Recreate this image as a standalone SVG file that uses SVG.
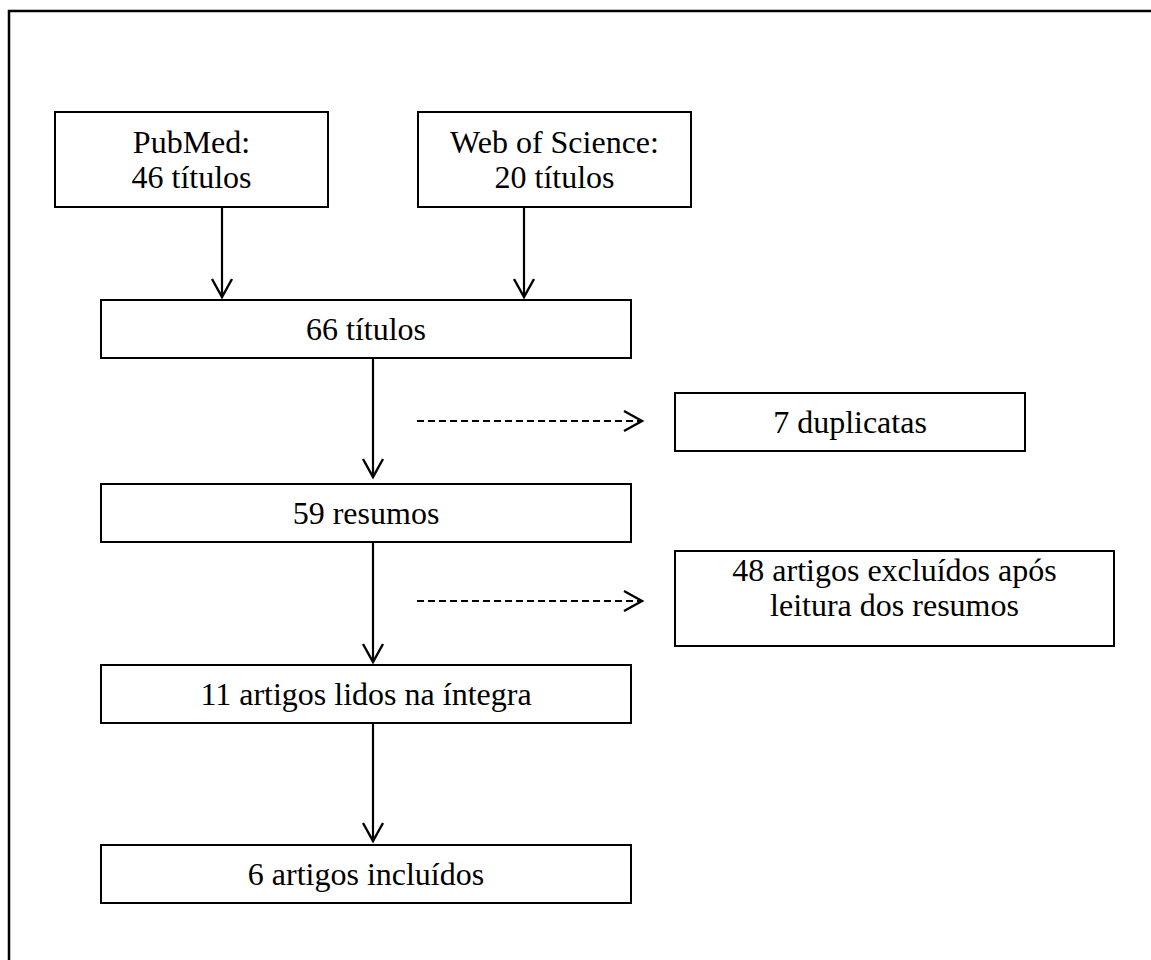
<svg xmlns="http://www.w3.org/2000/svg" width="1151" height="960" viewBox="0 0 1151 960">
<defs>
<style>
.box{fill:#fff;stroke:#000;stroke-width:2}
.t{font-family:"Liberation Serif","Times New Roman",serif;font-size:32px;fill:#000;text-anchor:middle}
.c{fill:none;stroke:#000;stroke-width:2.2}
.d{fill:none;stroke:#000;stroke-width:2;stroke-dasharray:7,4}
.h{fill:none;stroke:#000;stroke-width:2.4}
</style>
</defs>
<rect width="1151" height="960" fill="#fff"/>
<path d="M9,960 V11 H1151" fill="none" stroke="#000" stroke-width="2.5"/>
<g id="connectors">
<line class="c" x1="222" y1="207" x2="222" y2="296"/>
<polyline class="h" points="212,279 222,297 232,279"/>
<line class="c" x1="524" y1="207" x2="524" y2="296"/>
<polyline class="h" points="514,279 524,297 534,279"/>
<line class="c" x1="373" y1="358" x2="373" y2="476"/>
<polyline class="h" points="363,459 373,477 383,459"/>
<line class="c" x1="373" y1="542" x2="373" y2="661"/>
<polyline class="h" points="363,644 373,662 383,644"/>
<line class="c" x1="373" y1="723" x2="373" y2="840"/>
<polyline class="h" points="363,823 373,841 383,823"/>
<line class="d" x1="417" y1="421" x2="640" y2="421"/>
<polyline class="h" points="624,411 642,421 624,431"/>
<line class="d" x1="417" y1="601" x2="640" y2="601"/>
<polyline class="h" points="624,591 642,601 624,611"/>
</g>
<g id="pubmed">
<rect class="box" x="55" y="112" width="273" height="95"/>
<text class="t" x="191.5" y="153">PubMed:</text>
<text class="t" x="191.5" y="188">46 títulos</text>
</g>
<g id="wos">
<rect class="box" x="418" y="112" width="273" height="95"/>
<text class="t" x="554.5" y="153">Web of Science:</text>
<text class="t" x="554.5" y="188">20 títulos</text>
</g>
<g id="titulos66">
<rect class="box" x="101" y="300" width="530" height="58"/>
<text class="t" x="366" y="340">66 títulos</text>
</g>
<g id="duplicatas">
<rect class="box" x="675" y="393" width="350" height="58"/>
<text class="t" x="850" y="433">7 duplicatas</text>
</g>
<g id="resumos59">
<rect class="box" x="101" y="484" width="530" height="58"/>
<text class="t" x="366" y="524">59 resumos</text>
</g>
<g id="excluidos48">
<rect class="box" x="675" y="551" width="439" height="95"/>
<text class="t" x="894.5" y="581">48 artigos excluídos após</text>
<text class="t" x="894.5" y="616">leitura dos resumos</text>
</g>
<g id="lidos11">
<rect class="box" x="101" y="665" width="530" height="58"/>
<text class="t" x="366" y="705">11 artigos lidos na íntegra</text>
</g>
<g id="incluidos6">
<rect class="box" x="101" y="845" width="530" height="58"/>
<text class="t" x="366" y="885">6 artigos incluídos</text>
</g>
</svg>
